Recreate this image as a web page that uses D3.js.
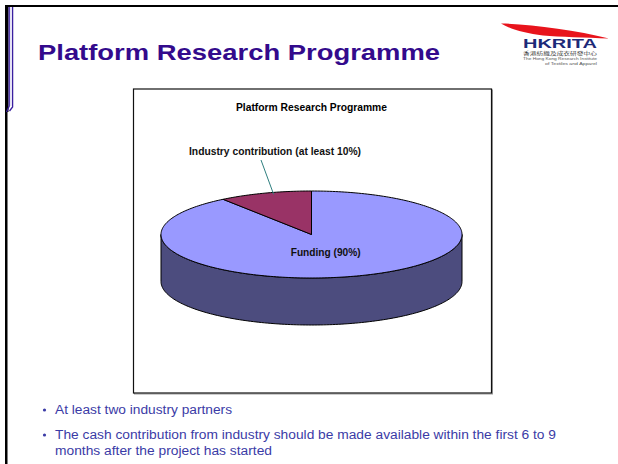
<!DOCTYPE html>
<html><head><meta charset="utf-8">
<script src="https://cdnjs.cloudflare.com/ajax/libs/d3/7.8.5/d3.min.js"></script>
<style>html,body{margin:0;padding:0;background:#fff;}svg{display:block;font-family:"Liberation Sans",Arial,sans-serif;}</style>
</head><body>
<script>
// ---- data ----
const slideTitle = "Platform Research Programme";
const chartTitle = "Platform Research Programme";
const categories = ["Funding (90%)", "Industry contribution (at least 10%)"];
const values = [90, 10];
const sliceColors = ["#9999FF", "#993366"];
const sideColors = ["#4C4C7E", "#4C1A33"];
const bullets = [
  ["At least two industry partners"],
  ["The cash contribution from industry should be made available within the first 6 to 9",
   "months after the project has started"]
];

const W = 618, H = 464;
const svg = d3.select("body").append("svg").attr("width", W).attr("height", H);

// slide frame
svg.append("rect").attr("x",5).attr("y",5).attr("width",W-5).attr("height",2).attr("fill","#000");
svg.append("rect").attr("x",5).attr("y",5).attr("width",2.5).attr("height",H-5).attr("fill","#000");
svg.append("rect").attr("x",5).attr("y",5).attr("width",3.5).attr("height",107).attr("fill","#000");
svg.append("path").attr("d","M9.2,7 V106 L6.5,112").attr("stroke","#3a1fa0").attr("stroke-width",1.3).attr("fill","none");
svg.append("path").attr("d","M12.6,7 V107 L9.5,111").attr("stroke","#3a1fa0").attr("stroke-width",1.3).attr("fill","none");
svg.append("rect").attr("x",10).attr("y",7).attr("width",2).attr("height",99).attr("fill","#e6e3f5");

// slide title
svg.append("text").attr("x",38).attr("y",59.5).attr("font-size",22).attr("font-weight","bold")
  .attr("fill","#330a8c").attr("textLength",402).attr("lengthAdjust","spacingAndGlyphs").text(slideTitle);

// logo
const logo = svg.append("g");
logo.append("path").attr("d","M501,23.5 C530,24 575,30 609,38.5 C585,37.5 560,37 543,35.5 C525,33.5 510,29 501,23.5 Z").attr("fill","#e8141c");
logo.append("text").attr("x",523).attr("y",47.5).attr("font-size",12.5).attr("font-weight","bold")
  .attr("fill","#1d2a78").attr("textLength",74).attr("lengthAdjust","spacingAndGlyphs").text("HKRITA");
logo.append("text").attr("x",523).attr("y",55).attr("font-size",4.2).attr("fill","#444")
  .attr("font-family","Noto Sans CJK TC").attr("textLength",74).attr("lengthAdjust","spacingAndGlyphs").text("香港紡織及成衣研發中心");
logo.append("text").attr("x",523).attr("y",59.8).attr("font-size",3.6).attr("fill","#555")
  .attr("textLength",74).attr("lengthAdjust","spacingAndGlyphs").text("The Hong Kong Research Institute");
logo.append("text").attr("x",597).attr("y",64.5).attr("font-size",3.6).attr("fill","#555").attr("text-anchor","end")
  .attr("textLength",52).attr("lengthAdjust","spacingAndGlyphs").text("of Textiles and Apparel");

// chart box
svg.append("rect").attr("x",134.5).attr("y",90).attr("width",358).attr("height",304).attr("fill","none").attr("stroke","#999").attr("stroke-width",1);
svg.append("rect").attr("x",133.5).attr("y",89).attr("width",358).attr("height",304).attr("fill","#fff").attr("stroke","#111").attr("stroke-width",1.2);

svg.append("text").attr("x",311.5).attr("y",111).attr("text-anchor","middle").attr("font-size",10.5).attr("font-weight","bold")
  .attr("fill","#000").attr("textLength",151).attr("lengthAdjust","spacingAndGlyphs").text(chartTitle);

// 3D pie
const cx = 311.5, cy = 234.5, rx = 150.5, ry = 43.5, depth = 47;
const sx = d3.scaleLinear().domain([-1,1]).range([cx-rx, cx+rx]);
const sy = d3.scaleLinear().domain([-1,1]).range([cy-ry, cy+ry]);
const pt = (a, dz=0) => [sx(Math.sin(a)), sy(-Math.cos(a)) + dz];
const arcs = d3.pie().sort(null).value(d=>d)(values);
const line = d3.line();
function samples(a0, a1){ const n = Math.max(2, Math.ceil((a1-a0)/0.02)); return d3.range(n+1).map(i=>a0+(a1-a0)*i/n); }

const pieG = svg.append("g");
// side walls (front half: angles between PI/2 and 3PI/2)
arcs.forEach((d,i)=>{
  const a0 = Math.max(d.startAngle, Math.PI/2), a1 = Math.min(d.endAngle, 3*Math.PI/2);
  if (a1 <= a0) return;
  const top = samples(a0,a1).map(a=>pt(a));
  const bot = samples(a0,a1).reverse().map(a=>pt(a,depth));
  pieG.append("path").attr("d", line(top.concat(bot))+"Z").attr("fill",sideColors[i]).attr("stroke","#000").attr("stroke-width",1);
});
// top faces
arcs.forEach((d,i)=>{
  const pts = [[cx,cy]].concat(samples(d.startAngle,d.endAngle).map(a=>pt(a)));
  pieG.append("path").attr("d", line(pts)+"Z").attr("fill",sliceColors[i]).attr("stroke","#000").attr("stroke-width",1).attr("stroke-linejoin","round");
});

// labels
svg.append("text").attr("x",325.7).attr("y",256).attr("text-anchor","middle").attr("font-size",10.5).attr("font-weight","bold")
  .attr("fill","#111").attr("textLength",70).attr("lengthAdjust","spacingAndGlyphs").text(categories[0]);
svg.append("text").attr("x",189).attr("y",155).attr("font-size",10.5).attr("font-weight","bold")
  .attr("fill","#111").attr("textLength",172).attr("lengthAdjust","spacingAndGlyphs").text(categories[1]);
const mid = (arcs[1].startAngle+arcs[1].endAngle)/2;
const edge = pt(mid + 0.06);
svg.append("line").attr("x1",261).attr("y1",160).attr("x2",edge[0]).attr("y2",edge[1]+2).attr("stroke","#2f7f7f").attr("stroke-width",1);

// bullets
const bulletColor = "#3b3ba6";
const lineWidths = [[177],[501,217]];
const baselines = [[414],[439,455]];
bullets.forEach((b,i)=>{
  svg.append("circle").attr("cx",44.5).attr("cy",baselines[i][0]-4).attr("r",1.6).attr("fill",bulletColor);
  b.forEach((t,j)=>{
    svg.append("text").attr("x",55).attr("y",baselines[i][j]).attr("font-size",12.5).attr("fill",bulletColor)
      .attr("textLength",lineWidths[i][j]).attr("lengthAdjust","spacingAndGlyphs").text(t);
  });
});
</script>
</body></html>
